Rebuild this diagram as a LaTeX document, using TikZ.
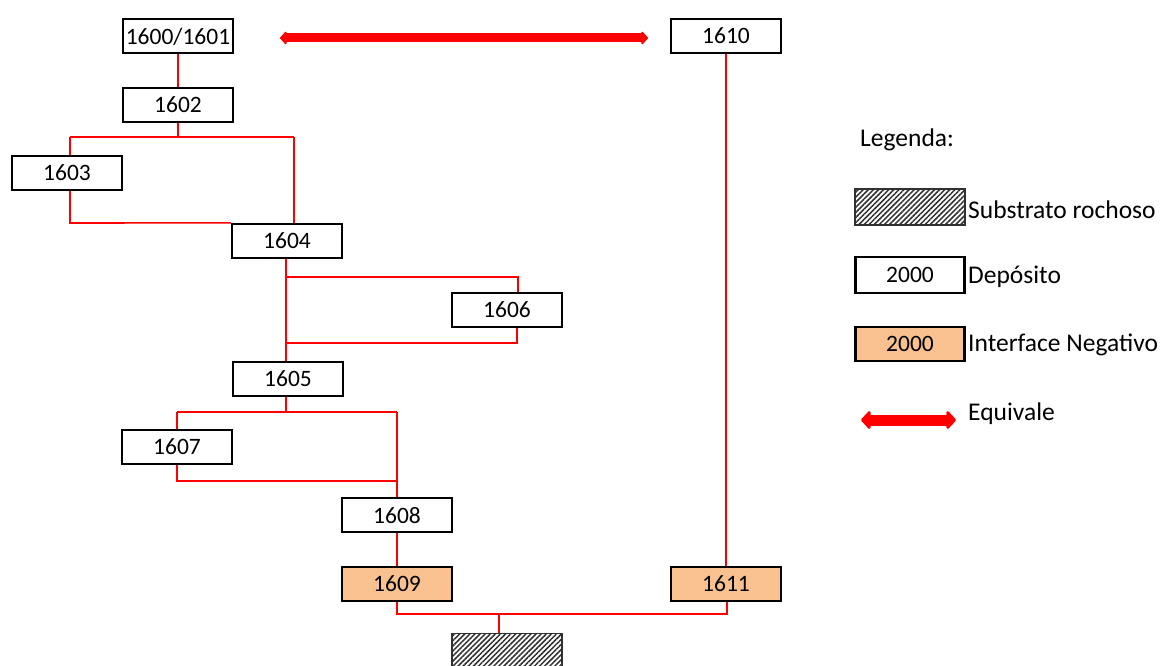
\documentclass[tikz,border=0pt]{standalone}
\usepackage{fontspec}
\setmainfont{Carlito}
\usetikzlibrary{arrows.meta,patterns.meta}
\definecolor{peach}{HTML}{F9C18F}
\definecolor{hatchink}{HTML}{303030}
\tikzset{
  unit/.style={draw=black, line width=2.3pt, minimum width=110pt, minimum height=34pt,
    inner sep=0pt, font=\fontsize{23.5}{26}\selectfont, text depth=0pt, fill=white},
  deposit/.style={unit},
  negative/.style={unit, fill=peach},
  rock/.style={draw=hatchink, line width=1.8pt, minimum width=110pt, minimum height=35pt,
    inner sep=0pt, fill=white,
    postaction={pattern={Lines[angle=45,distance=3.6pt,line width=1.5pt]}, pattern color=hatchink}},
  link/.style={draw=red, line width=1.6pt},
  equiv/.style={draw=red, line width=9pt,
    {Triangle[width=15pt,length=7pt,round]}-{Triangle[width=15pt,length=7pt,round]}},
  legendtext/.style={anchor=west, inner sep=0pt, font=\fontsize{25.5}{28}\selectfont}
}
\begin{document}
\begin{tikzpicture}[x=1pt,y=-1pt]
\useasboundingbox (0,0) rectangle (1167,666);
\clip (0,0) rectangle (1167,666);

% stratigraphic units
\node[deposit]  (u1600) at (178,36)  {1600/1601};
\node[deposit]  (u1602) at (178,105) {1602};
\node[deposit]  (u1603) at (67,173)  {1603};
\node[deposit]  (u1604) at (287,241) {1604};
\node[deposit]  (u1606) at (507,310) {1606};
\node[deposit]  (u1605) at (288,379) {1605};
\node[deposit]  (u1607) at (177,447) {1607};
\node[deposit]  (u1608) at (397,515) {1608};
\node[negative] (u1609) at (397,584) {1609};
\node[deposit]  (u1610) at (726,36)  {1610};
\node[negative] (u1611) at (726,584) {1611};
\node[rock]     (base)  at (507,651) {};

% equivalence between 1600/1601 and 1610
\coordinate (eqA) at (280,38);
\coordinate (eqB) at (648,38);
\draw[equiv] (eqA) -- (eqB);

% physical relations
\draw[link] (u1600.south) -- (u1602.north);

\coordinate (b1) at (178,137);
\coordinate (b1L) at (70,137);
\coordinate (b1R) at (294,137);
\draw[link] (u1602.south) -- (b1);
\draw[link] (b1L) -- (b1R);
\draw[link] (b1L) -- (b1L |- u1603.north);
\draw[link] (b1R) -- (b1R |- u1604.north);
\coordinate (c1) at (70,223);
\draw[link] (c1 |- u1603.south) -- (c1) -- (u1604.north west);

\coordinate (b2) at (286,277);
\coordinate (b2R) at (518,277);
\draw[link] (u1604.south -| b2) -- (u1605.north -| b2);
\draw[link] (b2) -- (b2R) -- (b2R |- u1606.north);
\coordinate (c2) at (517,343);
\draw[link] (c2 |- u1606.south) -- (c2) -- (286,343);

\coordinate (b3) at (286,412);
\coordinate (b3L) at (177,412);
\coordinate (b3R) at (397,412);
\draw[link] (u1605.south -| b3) -- (b3);
\draw[link] (b3L) -- (b3R);
\draw[link] (b3L) -- (u1607.north);
\draw[link] (b3R) -- (u1608.north);
\coordinate (c3) at (177,481);
\draw[link] (u1607.south) -- (c3) -- (397,481);

\draw[link] (u1608.south) -- (u1609.north);
\draw[link] (u1610.south) -- (u1611.north);

\coordinate (b4L) at (397,614);
\coordinate (b4R) at (727,614);
\draw[link] (u1609.south) -- (b4L) -- (b4R) -- (b4R |- u1611.south);
\coordinate (b4) at (499,614);
\draw[link] (b4) -- (b4 |- base.north);

% legend
\node[legendtext] (legtitle) at (860,140) {Legenda:};
\node[rock, minimum height=36pt] (legrock) at (910,207) {};
\node[legendtext] (legrocktext) at (968,210) {Substrato rochoso};
\node[deposit, minimum width=109pt, minimum height=36pt] (legdep) at (910,275) {2000};
\node[legendtext] (legdeptext) at (968,277) {Depósito};
\node[negative, minimum width=109pt] (legneg) at (910,344) {2000};
\node[legendtext] (legnegtext) at (968,345) {Interface Negativo};
\coordinate (legeqA) at (861,420);
\coordinate (legeqB) at (956,420);
\draw[equiv, line width=11pt,
  {Triangle[width=21pt,length=10pt,round]}-{Triangle[width=21pt,length=10pt,round]}] (legeqA) -- (legeqB);
\node[legendtext] (legeqtext) at (968,414) {Equivale};
\end{tikzpicture}
\end{document}
